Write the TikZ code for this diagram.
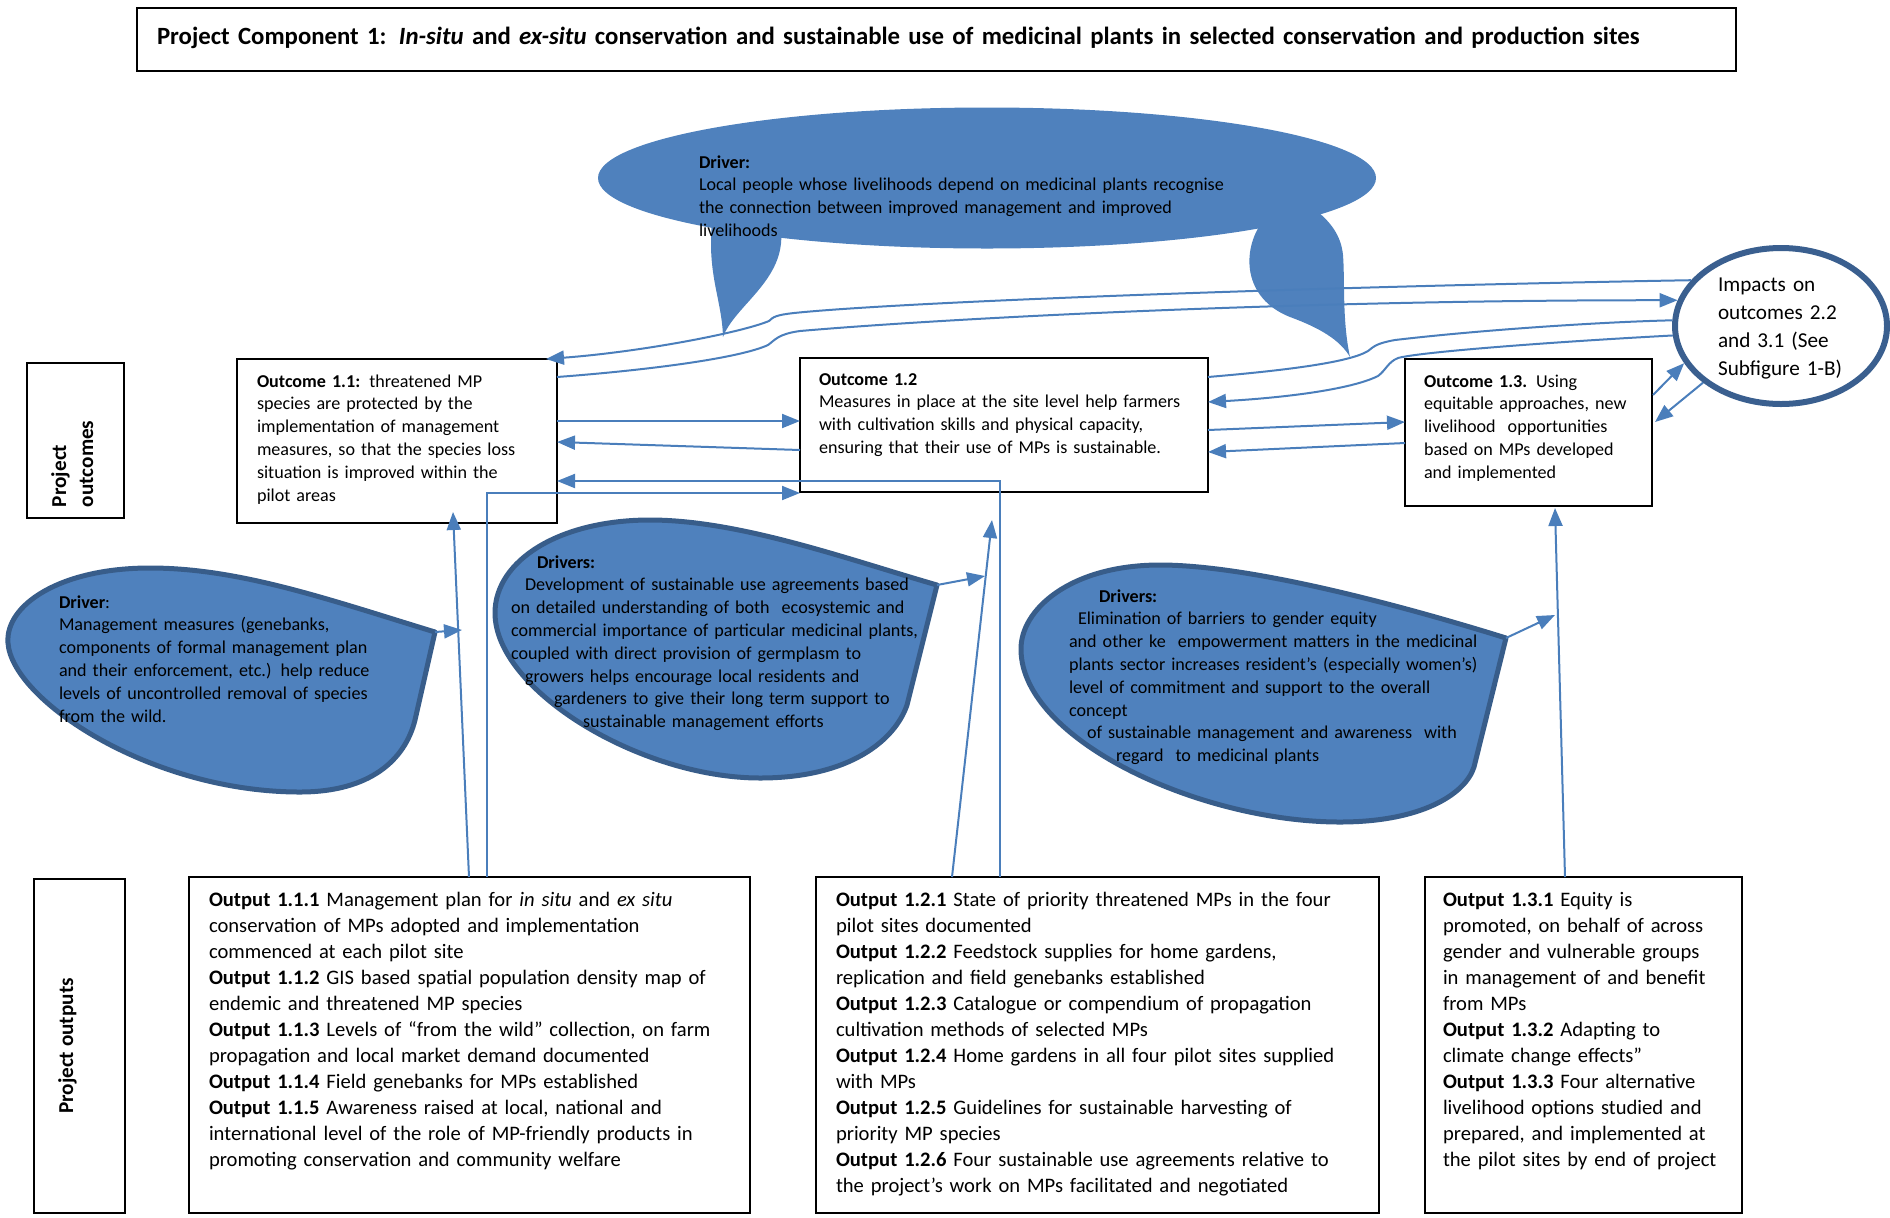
\documentclass[tikz,border=0pt]{standalone}
\usepackage{fontspec}
\setmainfont{Carlito}
\usetikzlibrary{arrows.meta,calc,shapes.geometric}
\definecolor{blobfill}{RGB}{79,129,189}
\definecolor{blobline}{RGB}{56,93,138}
\definecolor{connc}{RGB}{74,126,187}
\definecolor{ringc}{RGB}{58,95,143}
\begin{document}
\begin{tikzpicture}[x=0.5pt,y=-0.5pt,
  box/.style={draw=black,line width=1pt,anchor=north west,inner sep=0,outer sep=0},
  txt/.style={inner sep=0,outer sep=0,anchor=base west,align=left,text width=#1},
  txt/.default=300pt,
  otxt/.style={font=\fontsize{9.05}{11.4}\selectfont},
  ptxt/.style={font=\fontsize{10.3}{13}\selectfont},
  conn/.style={draw=connc,line width=1pt},
  arr/.style={conn,-{Triangle[length=9pt,width=7pt]}},
  blob/.style={fill=blobfill,draw=blobline,line width=2.5pt,line join=round},
]
\useasboundingbox (0,0) rectangle (1890,1217);

% title
\node[box,minimum width=799.5pt,minimum height=31.5pt] (title) at (137,8) {};
\node[txt=795pt,font=\fontsize{12.4}{15}\selectfont\bfseries] (titletext) at (157,44) {Project Component 1: \textit{In-situ} and \textit{ex-situ} conservation and sustainable use of medicinal plants in selected conservation and production sites};

% top driver callout
\fill[blobfill] (712,222) .. controls (707,275) and (722,300) .. (723,337) .. controls (735,305) and (786,280) .. (781,230) -- cycle;
\fill[blobfill] (1262,222) .. controls (1242,250) and (1242,298) .. (1290,317) .. controls (1320,328) and (1340,340) .. (1350,357) .. controls (1342,320) and (1345,280) .. (1343,255) .. controls (1341,235) and (1330,222) .. (1318,212) -- cycle;
\node[ellipse,fill=blobfill,minimum width=389pt,minimum height=70.5pt,inner sep=0] (drv0) at (987,178) {};
\node[txt=300pt,otxt] (d0t) at (699,168) {\textbf{Driver:}\\Local people whose livelihoods depend on medicinal plants recognise\\the connection between improved management and improved\\livelihoods};

% driver blobs
\coordinate (dL) at (435,632);
\coordinate (dM) at (937,585);
\coordinate (dR) at (1506,638);
\draw[blob] (dL) .. controls (330,600) and (240,568) .. (150,568) .. controls (60,568) and (5,605) .. (8,643) .. controls (12,700) and (150,792) .. (300,792) .. controls (370,792) and (405,760) .. (415,720) -- cycle;
\draw[blob] (dM) .. controls (850,560) and (740,520) .. (650,520) .. controls (560,520) and (495,560) .. (495,613) .. controls (495,690) and (640,778) .. (760,778) .. controls (850,778) and (895,740) .. (907,705) -- cycle;
\draw[blob] (dR) .. controls (1400,605) and (1250,565) .. (1160,565) .. controls (1070,565) and (1020,610) .. (1021,650) .. controls (1022,740) and (1200,822) .. (1340,822) .. controls (1420,822) and (1465,795) .. (1474,767) -- cycle;

\node[txt=200pt,otxt] (dLt) at (59,608) {\textbf{Driver}:\\Management measures (genebanks,\\components of formal management plan\\and their enforcement, etc.) help reduce\\levels of uncontrolled removal of species\\from the wild.};
\node[txt=220pt,otxt] (dMt) at (511,568) {\hspace*{13pt}\textbf{Drivers:}\\\hspace*{7pt}Development of sustainable use agreements based\\on detailed understanding of both\ \ ecosystemic and\\commercial importance of particular medicinal plants,\\coupled with direct provision of germplasm to\\\hspace*{7pt}growers helps encourage local residents and\\\hspace*{21.5pt}gardeners to give their long term support to\\\hspace*{36pt}sustainable management efforts};
\node[txt=220pt,otxt] (dRt) at (1069,602) {\hspace*{15pt}\textbf{Drivers:}\\\hspace*{4.5pt}Elimination of barriers to gender equity\\and other ke\ \ empowerment matters in the medicinal\\plants sector increases resident’s (especially women’s)\\level of commitment and support to the overall\\concept\\\hspace*{9pt}of sustainable management and awareness\ \ with\\\hspace*{23.5pt}regard\ \ to medicinal plants};

% impacts
\node[ellipse,draw=ringc,line width=3pt,minimum width=106pt,minimum height=78pt,inner sep=0] (imp) at (1781,326) {};
\node[txt=90pt,font=\fontsize{10.6}{14}\selectfont] (imptext) at (1718,291) {Impacts on\\outcomes 2.2\\and 3.1 (See\\Subfigure 1-B)};

% side labels
\node[box,minimum width=48.5pt,minimum height=77.5pt] (lblo) at (27,363) {};
\node[txt=80pt,rotate=90,font=\fontsize{10.6}{13.5}\selectfont\bfseries] (lblotext) at (66,507) {Project\\outcomes};
\node[box,minimum width=45.5pt,minimum height=167pt] (lblp) at (34,879) {};
\node[inner sep=0,rotate=90,anchor=base,font=\fontsize{10.6}{13}\selectfont\bfseries] (lblptext) at (73,1046) {Project outputs};

% outcomes
\node[box,minimum width=160pt,minimum height=82pt] (o11) at (237,359) {};
\node[txt=160pt,otxt] (o11t) at (257,387) {\textbf{Outcome 1.1:} threatened MP\\species are protected by the\\implementation of management\\measures, so that the species loss\\situation is improved within the\\pilot areas};
\node[box,minimum width=204pt,minimum height=67pt] (o12) at (800,358) {};
\node[txt=200pt,otxt] (o12t) at (819,385) {\textbf{Outcome 1.2}\\Measures in place at the site level help farmers\\with cultivation skills and physical capacity,\\ensuring that their use of MPs is sustainable.};
\node[box,minimum width=123.5pt,minimum height=73.5pt] (o13) at (1405,359) {};
\node[txt=120pt,otxt] (o13t) at (1424,387) {\textbf{Outcome 1.3.} Using\\equitable approaches, new\\livelihood\ \ opportunities\\based on MPs developed\\and implemented};

% outputs
\node[box,minimum width=280.5pt,minimum height=168pt] (p11) at (189,877) {};
\node[txt=280pt,ptxt] (p11t) at (209,906) {\textbf{Output 1.1.1} Management plan for \textit{in situ} and \textit{ex situ}\\conservation of MPs adopted and implementation\\commenced at each pilot site\\\textbf{Output 1.1.2} GIS based spatial population density map of\\endemic and threatened MP species\\\textbf{Output 1.1.3} Levels of “from the wild” collection, on farm\\propagation and local market demand documented\\\textbf{Output 1.1.4} Field genebanks for MPs established\\\textbf{Output 1.1.5} Awareness raised at local, national and\\international level of the role of MP-friendly products in\\promoting conservation and community welfare};
\node[box,minimum width=281.5pt,minimum height=168pt] (p12) at (816,877) {};
\node[txt=280pt,ptxt] (p12t) at (836,906) {\textbf{Output 1.2.1} State of priority threatened MPs in the four\\pilot sites documented\\\textbf{Output 1.2.2} Feedstock supplies for home gardens,\\replication and field genebanks established\\\textbf{Output 1.2.3} Catalogue or compendium of propagation\\cultivation methods of selected MPs\\\textbf{Output 1.2.4} Home gardens in all four pilot sites supplied\\with MPs\\\textbf{Output 1.2.5} Guidelines for sustainable harvesting of\\priority MP species\\\textbf{Output 1.2.6} Four sustainable use agreements relative to\\the project’s work on MPs facilitated and negotiated};
\node[box,minimum width=158.5pt,minimum height=168pt] (p13) at (1425,877) {};
\node[txt=160pt,ptxt] (p13t) at (1443,906) {\textbf{Output 1.3.1} Equity is\\promoted, on behalf of across\\gender and vulnerable groups\\in management of and benefit\\from MPs\\\textbf{Output 1.3.2} Adapting to\\climate change effects”\\\textbf{Output 1.3.3} Four alternative\\livelihood options studied and\\prepared, and implemented at\\the pilot sites by end of project};

% connectors
\coordinate (dLe) at (462,630);
\coordinate (dMe) at (985,576);
\coordinate (dRe) at (1555,615);
\draw[arr] (dL) -- (dLe);
\draw[arr] (dM) -- (dMe);
\draw[arr] (dR) -- (dRe);

\draw[arr] ($(o11.north east)+(0,62)$) -- ($(o12.north west)+(0,63)$);
\draw[arr] ($(o12.north west)+(0,92)$) -- ($(o11.north east)+(0,83)$);
\draw[arr] ($(p12.north west)+(184,0)$) |- ($(o11.north east)+(0,122)$);
\draw[arr] ($(p11.north west)+(298,0)$) |- ($(o12.north west)+(0,135)$);
\draw[arr] ($(p11.north west)+(280,0)$) -- ($(o11.south west)+(216,-11)$);
\draw[arr] ($(p12.north west)+(136,0)$) -- ($(o12.south west)+(192,28)$);
\draw[arr] ($(p13.north west)+(140,0)$) -- ($(o13.south west)+(150,2)$);

\draw[arr] ($(o12.north east)+(0,72)$) -- ($(o13.north west)+(0,63)$);
\draw[arr] ($(o13.north west)+(0,84)$) -- ($(o12.north east)+(0,94)$);
\draw[arr] ($(o13.north east)+(1,36)$) -- (imp.201);
\draw[arr] (imp.216) -- ($(o13.north east)+(3,63)$);

\draw[arr] (imp.153) .. controls (1300,287) and (900,302) .. (794,313) .. controls (776,315) and (773,317) .. (769,321) .. controls (740,333) and (640,352) .. ($(o11.north east)+(-11,0)$);
\draw[arr] ($(o11.north east)+(0,18)$) .. controls (650,370) and (740,358) .. (768,345) .. controls (775,340) and (778,334) .. (800,331) .. controls (950,318) and (1300,300) .. (imp.166);
\draw[conn] ($(o12.north east)+(0,19)$) .. controls (1290,370) and (1350,362) .. (1368,351) .. controls (1374,346) and (1378,343) .. (1395,340) .. controls (1480,330) and (1600,322) .. (imp.177);
\draw[arr] (imp.185) .. controls (1550,342) and (1420,352) .. (1398,358) .. controls (1388,362) and (1386,370) .. (1378,376) .. controls (1350,390) and (1280,398) .. ($(o12.north east)+(0,44)$);
\end{tikzpicture}
\end{document}
